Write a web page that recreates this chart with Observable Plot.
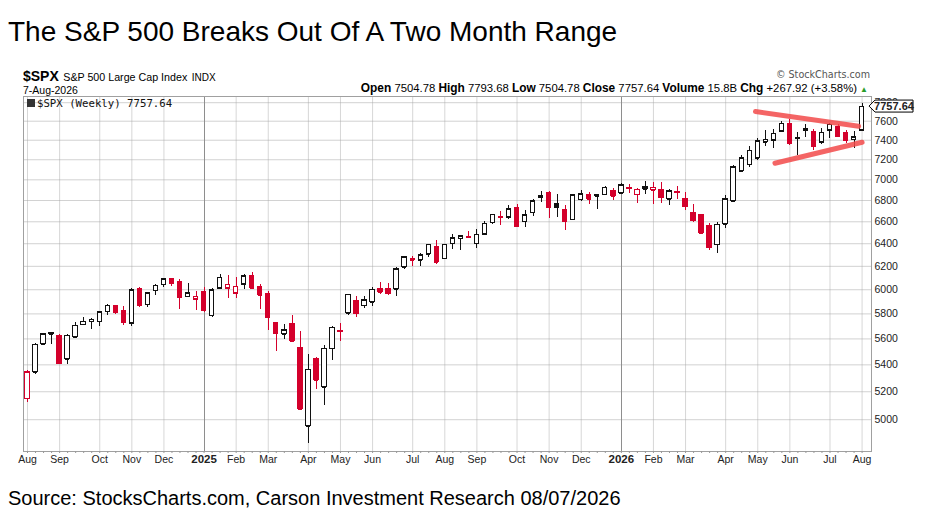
<!DOCTYPE html>
<html><head><meta charset="utf-8">
<script src="https://cdn.jsdelivr.net/npm/d3@7"></script>
<script src="https://cdn.jsdelivr.net/npm/@observablehq/plot@0.6"></script>
<style>
body{margin:0;background:#fff;font-family:"Liberation Sans",Arial,sans-serif;color:#000;}
#wrap{position:relative;width:936px;height:528px;overflow:hidden;background:#fff;}
.abs{position:absolute;white-space:nowrap;line-height:1;}
#chart{position:absolute;left:0;top:62px;}
</style></head><body><div id="wrap">
<div class="abs" style="left:8px;top:18px;font-size:28px;">The S&amp;P 500 Breaks Out Of A Two Month Range</div>
<div class="abs" style="left:23px;top:68px;"><b style="font-size:14px;">$SPX</b> <span style="font-size:10.7px;">S&amp;P 500 Large Cap Index</span> <span style="font-size:10px;">INDX</span></div>
<div class="abs" style="left:23px;top:85px;font-size:10.5px;">7-Aug-2026</div>
<div class="abs" style="right:66px;top:70px;color:#555;font-family:'DejaVu Sans',sans-serif;font-size:9.6px;">© StockCharts.com</div>
<div class="abs" style="right:68px;top:83px;font-size:11.3px;"><b style="font-size:11.9px;">Open</b> 7504.78 <b style="font-size:11.9px;">High</b> 7793.68 <b style="font-size:11.9px;">Low</b> 7504.78 <b style="font-size:11.9px;">Close</b> 7757.64 <b style="font-size:11.9px;">Volume</b> 15.8B <b style="font-size:11.9px;">Chg</b> +267.92 (+3.58%) <span style="color:#2a9d2a;font-size:8px;">▲</span></div>
<div id="chart"></div>
<div class="abs" style="left:8px;top:488px;font-size:20px;">Source: StocksCharts.com, Carson Investment Research 08/07/2026</div>
</div>
<script>
// ---- data (weekly bars, week starting Monday) ----
const firstWeek = "2024-08-05";
const firstPrevClose = 5346.56;
const opens = [5151,5344,5557,5636,5623,5442,5615,5711,5737,5737,5818,5866,5826,5725,6007,5875,5992,6040,6090,6063,
5942,5920,5982,5786,6014,6012,5969,6046,6114,6026,5968,5725,5635,5718,5527,4953,5441,5232,5525,5655,
5807,5902,5866,5896,6004,6005,6004,6193,6255,6255,6304,6374,6268,6400,6445,6457,6401,6485,6590,6640,
6644,6725,6600,6686,6830,6875,6770,6710,6621,6805,6857,6851,6857,6893,6870,6915,6855,6910,6897,6904,
6810,6872,6810,6678,6665,6565,6389,6575,6795,7083,7150,7216,7380,7398,7495,7572,7420,7519,7484,7380,
7502,7537,7477,7405,7504.78];
const highs = [5358,5561,5643,5651,5636,5636,5733,5767,5765,5822,5878,5869,5862,6012,6017,5972,6044,6099,6093,6085,
6049,5986,6021,6014,6128,6120,6101,6127,6147,6043,5986,5734,5715,5786,5655,5481,5459,5551,5700,5720,
5958,5945,5944,6016,6059,6050,6187,6284,6290,6315,6390,6427,6395,6481,6478,6508,6532,6600,6672,6699,
6750,6765,6710,6807,6890,6885,6860,6752,6853,6895,6877,6855,6935,6911,6960,6958,6920,6983,6973,6970,
6909,6935,6878,6765,6672,6580,6590,6848,7140,7240,7330,7420,7500,7509,7597,7618,7484,7561,7509,7519,
7572,7561,7500,7492,7793.68];
const lows = [5119,5330,5550,5560,5403,5402,5602,5703,5674,5696,5784,5797,5703,5696,5853,5853,5955,6023,6030,5832,
5932,5829,5809,5773,6010,5923,5923,6003,6009,5837,5666,5505,5597,5573,5069,4835,5220,5101,5433,5580,
5786,5767,5843,5861,5964,5952,5943,6177,6201,6201,6281,6212,6259,6345,6343,6443,6360,6472,6572,6569,
6618,6550,6551,6648,6785,6631,6640,6521,6617,6790,6766,6714,6848,6800,6864,6866,6770,6857,6765,6772,
6756,6810,6705,6590,6490,6340,6310,6541,6780,7070,7120,7190,7330,7310,7484,7346,7244,7431,7294,7352,
7413,7431,7363,7310,7504.78];
const closes = [5344,5554,5635,5648,5408,5626,5703,5738,5751,5815,5865,5808,5729,5996,5871,5969,6032,6090,6051,5931,
5971,5942,5827,5997,6101,6041,6026,6115,6013,5955,5770,5639,5668,5581,5074,5363,5283,5525,5687,5660,
5958,5803,5912,6000,5977,5968,6173,6279,6260,6297,6389,6238,6389,6450,6467,6460,6482,6584,6664,6644,
6716,6553,6660,6792,6840,6729,6734,6603,6849,6860,6812,6839,6922,6842,6947,6917,6904,6928,6924,6827,
6887,6878,6740,6610,6495,6365,6572,6810,7125,7216,7294,7390,7405,7467,7572,7363,7424,7497,7330,7477,
7562,7442,7395,7432,7757.64];

const monthTicks = ["2024-08-05","2024-09-02","2024-10-07","2024-11-04","2024-12-02","2025-02-03","2025-03-03","2025-04-07",
"2025-05-05","2025-06-02","2025-07-07","2025-08-04","2025-09-01","2025-10-06","2025-11-03","2025-12-01","2026-02-02",
"2026-03-02","2026-04-06","2026-05-04","2026-06-01","2026-07-06","2026-08-03"];
const yearTicks = ["2025-01-06","2026-01-05"];
const yTicks = [5000,5200,5400,5600,5800,6000,6200,6400,6600,6800,7000,7200,7400,7600,7800];
const upperTrend = [{date:"2026-05-02", price:7704},{date:"2026-07-31", price:7547}];
const lowerTrend = [{date:"2026-05-19", price:7165},{date:"2026-08-03", price:7379}];

// ---- build table ----
const RED = "#d4002b", BLACK = "#111";
const start = new Date(firstWeek);
const bars = closes.map((c, i) => {
  const prev = i ? closes[i-1] : firstPrevClose;
  const col = c >= prev ? BLACK : RED;
  const date = d3.utcMonday.offset(start, i);
  return {date, x1: d3.utcHour.offset(date, -46), x2: d3.utcHour.offset(date, 46),
    open: opens[i], high: highs[i], low: lows[i], close: c, col, fill: c < opens[i] ? col : "#fff"};
});
const mT = monthTicks.map(s => new Date(s));
const yT = yearTicks.map(s => new Date(s));
const up = upperTrend.map(d => ({date: new Date(d.date), price: d.price}));
const lo = lowerTrend.map(d => ({date: new Date(d.date), price: d.price}));
const FONT = "'Liberation Sans', Arial, sans-serif";
const CRISP = "crispEdges";

const chart = Plot.plot({
  width: 936, height: 409,
  marginLeft: 23, marginRight: 65, marginTop: 34, marginBottom: 20,
  style: {fontFamily: FONT, fontSize: "10.5px", color: "#222", background: "transparent"},
  x: {type: "utc", domain: [new Date("2024-08-01T12:00Z"), new Date("2026-08-11T05:00Z")]},
  y: {type: "log", domain: [4782, 7868], axis: null},
  color: {type: "identity"},
  marks: [
    Plot.ruleY(yTicks, {y: d => d, stroke: "#a6a6a6", strokeWidth: 1, strokeOpacity: 0.5}),
    Plot.ruleX(mT, {x: d => d, stroke: "#a6a6a6", strokeWidth: 1, strokeOpacity: 0.45}),
    Plot.ruleX(yT, {x: d => d, stroke: "#8e8e8e", strokeWidth: 1, shapeRendering: CRISP}),
    Plot.frame({stroke: "#a0a0a0", shapeRendering: CRISP}),
    Plot.ruleX(bars, {x: "date", y1: "low", y2: "high", stroke: "col", strokeWidth: 1, shapeRendering: CRISP}),
    Plot.rect(bars, {x1: "x1", x2: "x2", y1: "open", y2: "close", fill: "fill", stroke: "col", strokeWidth: 1, shapeRendering: CRISP}),
    Plot.ruleY(bars, {x1: "x1", x2: "x2", y: "open", stroke: "col", strokeWidth: 1, shapeRendering: CRISP}),
    Plot.ruleY(bars, {x1: "x1", x2: "x2", y: "close", stroke: "col", strokeWidth: 1, shapeRendering: CRISP}),
    Plot.line(up, {x: "date", y: "price", stroke: "#f24a4a", strokeWidth: 5, strokeOpacity: 0.85, strokeLinecap: "round"}),
    Plot.line(lo, {x: "date", y: "price", stroke: "#f24a4a", strokeWidth: 5, strokeOpacity: 0.85, strokeLinecap: "round"}),
    Plot.text(yTicks, {y: d => d, frameAnchor: "right", dx: 3, textAnchor: "start", text: d => String(d), fontSize: 10.5, fill: "#222"}),
    Plot.axisX(bars.map(d => d.date), {anchor: "bottom", tickSize: 2, tickFormat: () => "", stroke: "#999"}),
    Plot.text(mT, {x: d => d, frameAnchor: "bottom", dy: 4, lineAnchor: "top", text: d3.utcFormat("%b"), fontSize: 10.5, fill: "#222"}),
    Plot.text(yT, {x: d => d, frameAnchor: "bottom", dy: 3, lineAnchor: "top", text: d3.utcFormat("%Y"), fontSize: 11.5, fontWeight: "bold", fill: "#222"})
  ]
});
document.getElementById("chart").appendChild(chart);

// annotations placed through the scales
const svg = d3.select(chart);
const ys = chart.scale("y"), xs = chart.scale("x");
const right = xs.range[1];
const last = bars[bars.length - 1];
const yy = ys.apply(last.close);
const g = svg.append("g").attr("text-anchor", "start");
g.append("path")
  .attr("d", `M${right-2},${yy} L${right+4},${yy-6} L${right+42},${yy-6} L${right+42},${yy+6} L${right+4},${yy+6} Z`)
  .attr("fill", "#fff").attr("stroke", "#000").attr("stroke-width", 1);
g.append("text").attr("x", right + 23).attr("y", yy).attr("dy", "0.36em").attr("text-anchor", "middle")
  .attr("font-weight", "bold").attr("font-size", 11).attr("font-family", FONT).text(last.close.toFixed(2));
const x0 = xs.range[0];
const ty = ys.range[1] + 7;
g.append("rect").attr("x", x0 + 4).attr("y", ty - 4).attr("width", 8).attr("height", 8).attr("fill", "#333");
g.append("text").attr("x", x0 + 14).attr("y", ty).attr("dy", "0.35em").attr("text-anchor", "start").attr("font-size", 10.7)
  .attr("font-family", "'DejaVu Sans Mono', monospace").attr("fill", "#111").text(`$SPX (Weekly) ${last.close.toFixed(2)}`);
</script>
</body></html>
